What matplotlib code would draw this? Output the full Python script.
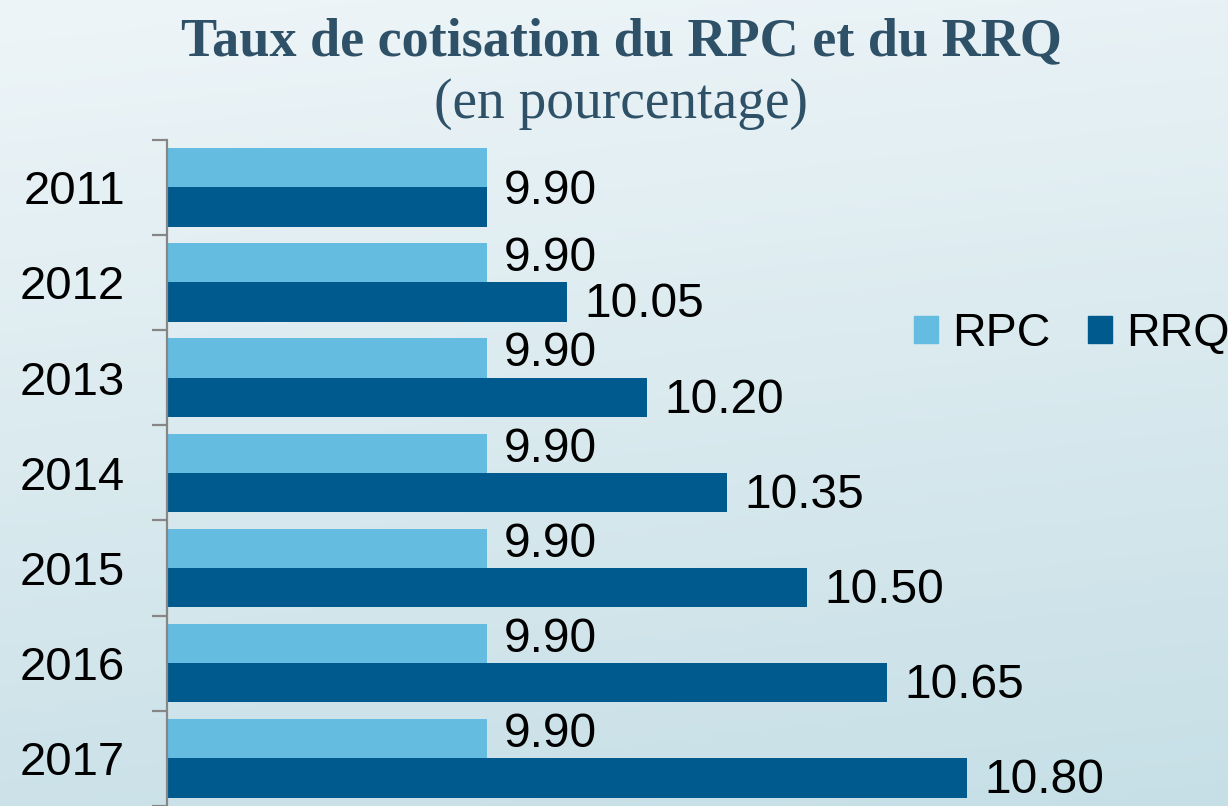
import numpy as np
import matplotlib
matplotlib.use("Agg")
import matplotlib.pyplot as plt
from matplotlib.patches import Patch

years = ["2011", "2012", "2013", "2014", "2015", "2016", "2017"]
rpc = [9.90, 9.90, 9.90, 9.90, 9.90, 9.90, 9.90]
rrq = [9.90, 10.05, 10.20, 10.35, 10.50, 10.65, 10.80]

LIGHT = "#64bce1"
DARK = "#005a8d"
TITLE_C = "#2e5168"

fig = plt.figure(figsize=(12.28, 8.06), dpi=100)

# background gradient
bg = fig.add_axes([0, 0, 1, 1], zorder=-10)
top = np.array([238, 245, 248]) / 255
bot = np.array([198, 223, 230]) / 255
t = np.linspace(0, 1, 256)[:, None, None]
s = np.linspace(0, 1, 256)[None, :, None]
mix = np.clip(t * 0.85 + s * 0.15, 0, 1)
grad = top * (1 - mix) + bot * mix
bg.imshow(grad, aspect="auto", extent=[0, 1, 0, 1], origin="upper")
bg.axis("off")

ax = fig.add_axes([166.7 / 1228, 0, 1 - 166.7 / 1228, 1 - 139.7 / 806])
ax.patch.set_alpha(0)

y = np.arange(len(years))
h = 0.4125
ax.barh(y - h / 2, rpc, height=h, color=LIGHT, label="RPC")
ax.barh(y + h / 2, rrq, height=h, color=DARK, label="RRQ")

ax.set_xlim(9.3, 9.3 + (1228 - 166.7) / 533.3)
ax.set_ylim(len(years) - 0.5, -0.5)

# value labels
lab = dict(textcoords="offset points", va="center", ha="left",
           fontsize=34.5, family="Liberation Sans")
for i in range(len(years)):
    if rpc[i] == rrq[i]:
        ax.annotate(f"{rpc[i]:.2f}", (rpc[i], i), xytext=(12, -3), **lab)
    else:
        ax.annotate(f"{rpc[i]:.2f}", (rpc[i], i - h / 2), xytext=(12, 3), **lab)
        ax.annotate(f"{rrq[i]:.2f}", (rrq[i], i + h / 2), xytext=(13, -2), **lab)

# axes styling
for sp in ["top", "right", "bottom"]:
    ax.spines[sp].set_visible(False)
ax.spines["left"].set_color("#868686")
ax.spines["left"].set_linewidth(1.6)
ax.set_xticks([])
ax.set_yticks(y)
ax.set_yticklabels(years, fontsize=34, family="Liberation Sans")
ax.tick_params(axis="y", which="major", length=0, pad=30)
ax.set_yticks(np.arange(-0.5, len(years)), minor=True)
ax.tick_params(axis="y", which="minor", length=11, width=1.6, color="#868686")

handles = [Patch(color=LIGHT, label="RPC"), Patch(color=DARK, label="RRQ")]
fig.legend(handles=handles, loc="center left",
           bbox_to_anchor=(914 / 1228, 1 - 334 / 806),
           ncol=2, frameon=False, borderpad=0, borderaxespad=0,
           handlelength=0.52, handleheight=0.52, handletextpad=0.3,
           columnspacing=0.8,
           prop={"family": "Liberation Sans", "size": 33.5})

fig.text(0.506, 1 - 42 / 806, "Taux de cotisation du RPC et du RRQ",
         ha="center", va="center", fontsize=39, fontweight="bold",
         family="Liberation Serif", color=TITLE_C)
fig.text(0.506, 1 - 104 / 806, "(en pourcentage)",
         ha="center", va="center", fontsize=40,
         family="Liberation Serif", color=TITLE_C)

fig.savefig("out.png", dpi=100)
